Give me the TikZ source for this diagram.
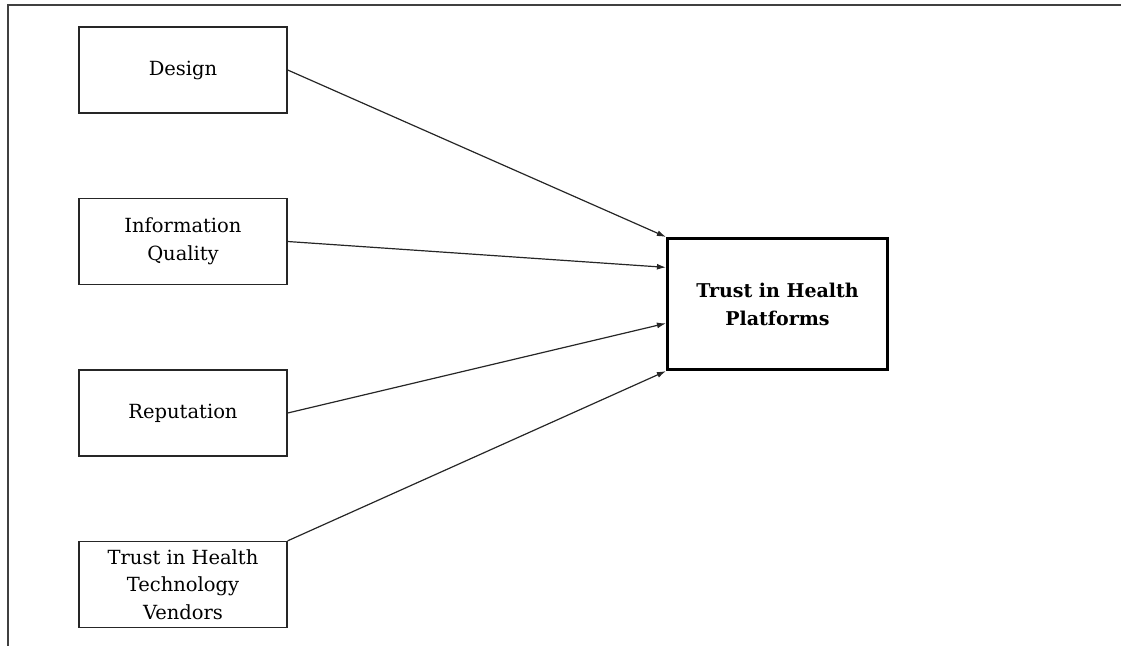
\documentclass[tikz,border=0pt]{standalone}
\usepackage{fontspec}
\setmainfont{DejaVu Serif}
\usetikzlibrary{arrows.meta,calc}
\begin{document}
\begin{tikzpicture}[x=1pt,y=-1pt,
  factor/.style={draw=black!85,line width=1.4pt,rectangle,minimum width=208pt,
    minimum height=86pt,inner sep=2pt,align=center,
    font=\fontsize{19.5}{27.5}\selectfont},
  target/.style={draw=black,line width=3.2pt,rectangle,minimum width=220pt,
    minimum height=131pt,align=center,
    font=\fontsize{19}{28}\selectfont\bfseries},
  link/.style={draw=black!85,line width=1.2pt,-{Latex[length=9pt,width=6pt]}},
  frame/.style={draw=black!75,line width=2pt}]
\useasboundingbox (0,0) rectangle (1121,646);
% page frame: top and left rule
\draw[frame] (1121,5) -- (8,5) -- (8,646);
% factor boxes
\node[factor] (design) at (183,70) {Design};
\node[factor] (info) at (183,241.5) {Information\\Quality};
\node[factor] (rep) at (183,413) {Reputation};
\node[factor] (vendors) at (183,584.5) {Trust in Health\\Technology\\Vendors};
% outcome box
\node[target] (trust) at (777.5,304) {Trust in Health\\Platforms};
% paths
\draw[link] (design.east) -- (trust.north west);
\draw[link] (info.east) -- ($(trust.north west)!0.227!(trust.south west)$);
\draw[link] (rep.east) -- ($(trust.north west)!0.644!(trust.south west)$);
\draw[link] (vendors.north east) -- (trust.south west);
\end{tikzpicture}
\end{document}
